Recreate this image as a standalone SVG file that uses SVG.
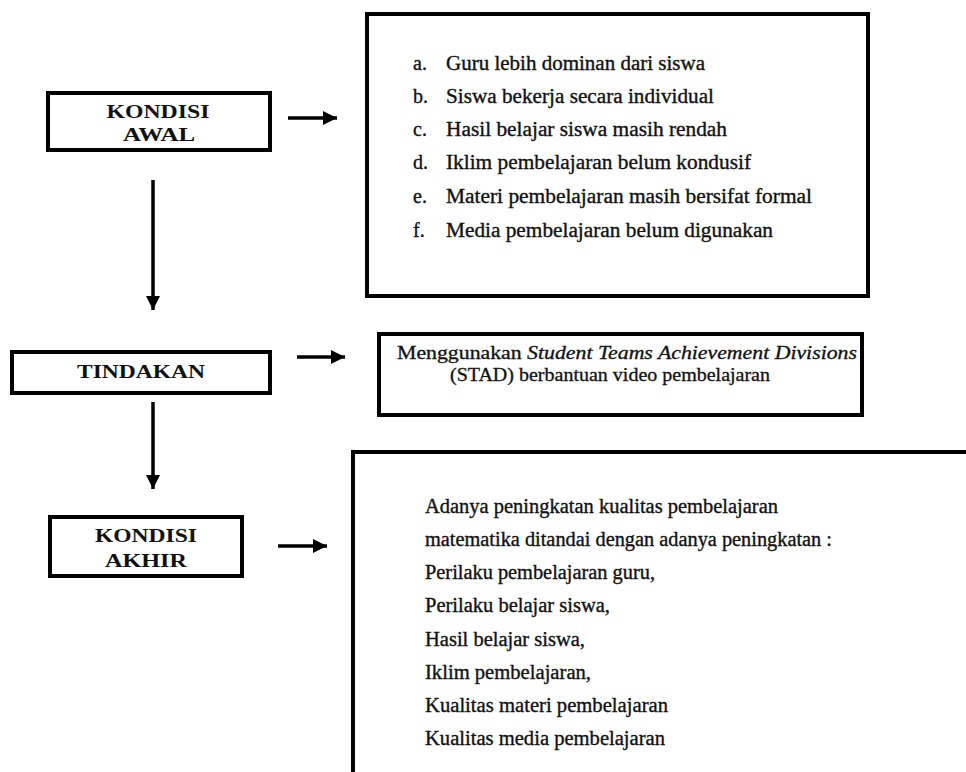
<svg xmlns="http://www.w3.org/2000/svg" width="966" height="772" viewBox="0 0 966 772">
<defs>
<style>
.box{fill:#fff;stroke:#000;stroke-width:4}
.lbl{font-family:"Liberation Serif","Times New Roman",serif;font-weight:bold;font-size:18px;fill:#111;text-anchor:middle}
.txt{font-family:"Liberation Serif","Times New Roman",serif;font-size:20px;fill:#111;stroke:#111;stroke-width:0.35}
.stad{font-family:"Liberation Serif","Times New Roman",serif;font-size:18px;fill:#111;stroke:#111;stroke-width:0.3}
.con{stroke:#000;stroke-width:3.5;fill:none;marker-end:url(#ah)}
</style>
<marker id="ah" markerUnits="userSpaceOnUse" markerWidth="16" markerHeight="14" refX="14" refY="7" orient="auto">
<path d="M0,0 L14,7 L0,14 z" fill="#000"/>
</marker>
</defs>
<rect width="966" height="772" fill="#fff"/>

<g id="kondisi-awal">
<rect class="box" x="48" y="93" width="222" height="57"/>
<text class="lbl" x="158" y="118" textLength="103" lengthAdjust="spacingAndGlyphs">KONDISI</text>
<text class="lbl" x="159" y="141" textLength="72" lengthAdjust="spacingAndGlyphs">AWAL</text>
</g>

<g id="kondisi-awal-detail">
<rect class="box" x="367" y="14" width="501" height="282"/>
<text class="txt" x="413" y="70">a.</text>
<text class="txt" x="446" y="70" textLength="259" lengthAdjust="spacingAndGlyphs">Guru lebih dominan dari siswa</text>
<text class="txt" x="413" y="103">b.</text>
<text class="txt" x="446" y="103" textLength="268" lengthAdjust="spacingAndGlyphs">Siswa bekerja secara individual</text>
<text class="txt" x="413" y="136">c.</text>
<text class="txt" x="446" y="136" textLength="281" lengthAdjust="spacingAndGlyphs">Hasil belajar siswa masih rendah</text>
<text class="txt" x="413" y="169">d.</text>
<text class="txt" x="446" y="169" textLength="305" lengthAdjust="spacingAndGlyphs">Iklim pembelajaran belum kondusif</text>
<text class="txt" x="413" y="203">e.</text>
<text class="txt" x="446" y="203" textLength="366" lengthAdjust="spacingAndGlyphs">Materi pembelajaran  masih bersifat formal</text>
<text class="txt" x="413" y="237">f.</text>
<text class="txt" x="446" y="237" textLength="327" lengthAdjust="spacingAndGlyphs">Media pembelajaran belum digunakan</text>
</g>

<g id="tindakan">
<rect class="box" x="12" y="352" width="258" height="41"/>
<text class="lbl" x="141" y="378" textLength="128" lengthAdjust="spacingAndGlyphs">TINDAKAN</text>
</g>

<g id="tindakan-detail">
<rect class="box" x="379" y="334" width="483" height="81"/>
<text class="stad" x="627" y="359" text-anchor="middle" textLength="460" lengthAdjust="spacingAndGlyphs">Menggunakan <tspan font-style="italic">Student Teams Achievement Divisions</tspan></text>
<text class="stad" x="610" y="381" text-anchor="middle" textLength="320" lengthAdjust="spacingAndGlyphs">(STAD) berbantuan video pembelajaran</text>
</g>

<g id="kondisi-akhir">
<rect class="box" x="50" y="517" width="192" height="59"/>
<text class="lbl" x="146" y="542" textLength="102" lengthAdjust="spacingAndGlyphs">KONDISI</text>
<text class="lbl" x="146" y="567" textLength="82" lengthAdjust="spacingAndGlyphs">AKHIR</text>
</g>

<g id="kondisi-akhir-detail">
<rect class="box" x="353" y="452" width="640" height="340"/>
<text class="txt" x="425" y="513" textLength="353" lengthAdjust="spacingAndGlyphs">Adanya peningkatan kualitas pembelajaran</text>
<text class="txt" x="425" y="546" textLength="407" lengthAdjust="spacingAndGlyphs">matematika ditandai dengan adanya peningkatan :</text>
<text class="txt" x="425" y="579" textLength="230" lengthAdjust="spacingAndGlyphs">Perilaku pembelajaran guru,</text>
<text class="txt" x="425" y="612" textLength="185" lengthAdjust="spacingAndGlyphs">Perilaku belajar siswa,</text>
<text class="txt" x="425" y="646" textLength="160" lengthAdjust="spacingAndGlyphs">Hasil belajar siswa,</text>
<text class="txt" x="425" y="679" textLength="166" lengthAdjust="spacingAndGlyphs">Iklim pembelajaran,</text>
<text class="txt" x="425" y="712" textLength="243" lengthAdjust="spacingAndGlyphs">Kualitas materi pembelajaran</text>
<text class="txt" x="425" y="745" textLength="240" lengthAdjust="spacingAndGlyphs">Kualitas media pembelajaran</text>
</g>

<g id="connectors">
<line class="con" x1="288" y1="118" x2="337" y2="118"/>
<line class="con" x1="153" y1="180" x2="153" y2="310"/>
<line class="con" x1="297" y1="357" x2="345" y2="357"/>
<line class="con" x1="153" y1="402" x2="153" y2="489"/>
<line class="con" x1="278" y1="546" x2="327" y2="546"/>
</g>
</svg>
